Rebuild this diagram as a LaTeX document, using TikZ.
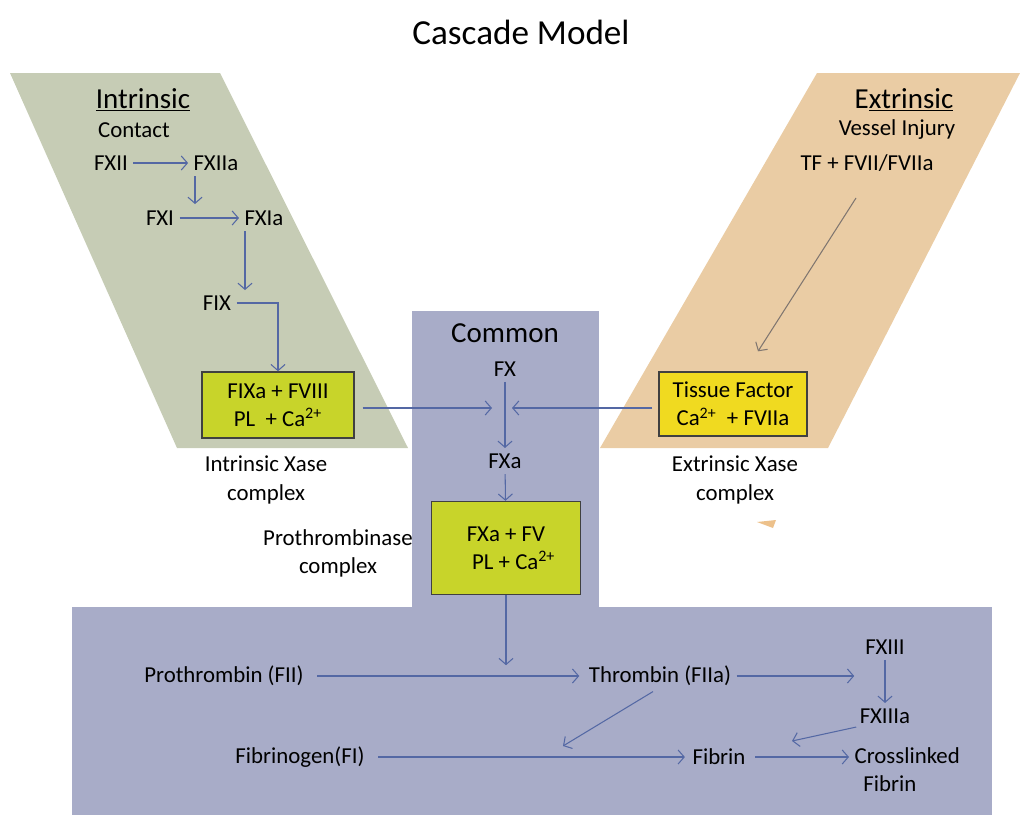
\documentclass[tikz,border=0pt]{standalone}
\usepackage{fontspec}
\setmainfont{Carlito}
\usepackage{xcolor}
\usetikzlibrary{positioning,arrows.meta}
\definecolor{intr-fill}{RGB}{198,204,181}
\definecolor{extr-fill}{RGB}{234,204,164}
\definecolor{common-fill}{RGB}{168,172,200}
\definecolor{box-fill}{RGB}{200,212,42}
\definecolor{tf-fill}{RGB}{240,218,32}
\definecolor{flow-blue}{RGB}{84,104,164}
\definecolor{flow-gray}{RGB}{128,118,112}
\tikzset{
    title-text/.style = {font=\fontsize{20}{24}\selectfont},
    head-text/.style = {font=\fontsize{16.5}{19}\selectfont, inner sep=2pt},
    path-text/.style = {font=\fontsize{13}{16}\selectfont, inner sep=3pt, align=center},
    complex-box/.style = {draw=black!75, line width=0.8pt, rectangle, align=center, font=\fontsize{13}{16}\selectfont},
    flow/.style = {draw=flow-blue, line width=0.6pt, -{Straight Barb[length=3.5pt,width=8pt]}},
}
\begin{document}
\begin{tikzpicture}[x=0.02cm, y=-0.02cm]
\useasboundingbox (0,0) rectangle (1020,815);

% background panels
\fill[intr-fill] (10,73) -- (220,73) -- (408,448) -- (177,448) -- cycle;
\fill[extr-fill] (817,73) -- (1020,73) -- (828,448) -- (600,448) -- cycle;
\fill[extr-fill!85!orange] (757,522) -- (776,520) -- (773,528) -- cycle;
\fill[common-fill] (412,311) rectangle (599,612);
\fill[common-fill] (72,607) rectangle (992,815);

\node[title-text] (title) at (521,32) {Cascade Model};

% intrinsic pathway
\node[head-text] (intr) at (143,100) {\underline{Intrinsic}};
\node[path-text, anchor=west, inner sep=1pt] (contact) at (96,130) {Contact};
\node[path-text] (fxii) at (111,163) {FXII};
\node[path-text] (fxiia) at (216,163) {FXIIa};
\node[path-text] (fxi) at (160,218) {FXI};
\node[path-text] (fxia) at (264,218) {FXIa};
\node[path-text] (fix) at (217,303) {FIX};
\node[complex-box, fill=box-fill, minimum width=3.04cm, minimum height=1.32cm] (ixase) at (278,405) {FIXa\ + FVIII\\PL\ \ + Ca\textsuperscript{2+}};
\node[path-text] (ixase-lbl) at (266,480) {Intrinsic Xase\\complex};

\draw[flow] (fxii) -- (fxiia);
\draw[flow] ([shift={(-21,0)}]fxiia.south) -- ++(0,28);
\draw[flow] (fxi) -- (fxia);
\draw[flow] ([shift={(-19,0)}]fxia.south) -- ([shift={(-19,0)}]fxia.south |- fix.north);
\draw[flow] (fix.east) -| (ixase.north);

% extrinsic pathway
\node[head-text] (extr) at (904,100) {E\underline{xtrinsic}};
\node[path-text, inner sep=1pt] (injury) at (897,130) {Vessel\ Injury};
\node[path-text] (tf) at (867,163) {TF\ + FVII/FVIIa};
\node[complex-box, fill=tf-fill, minimum width=2.96cm, minimum height=1.28cm] (exase) at (733,404) {Tissue Factor\\Ca\textsuperscript{2+}\ \ + FVIIa};
\node[path-text] (exase-lbl) at (735,480) {Extrinsic Xase\\complex};

\draw[flow, draw=flow-gray] ([shift={(-11,35)}]tf.center) -- ([shift={(25,-20)}]exase.north);

% common pathway
\node[head-text] (common) at (505,333) {Common};
\node[path-text] (fx) at (505,369) {FX};
\node[path-text] (fxa) at (505,461) {FXa};
\node[complex-box, fill=box-fill, minimum width=2.98cm, minimum height=1.86cm] (pro) at (506,548) {FXa\ + FV\\\ \ \ PL\ + Ca\textsuperscript{2+}};
\node[path-text, left=0.25cm of pro, yshift=-0.1cm] (pro-lbl) {Prothrombinase\\complex};
\coordinate (fx-join) at (505,408);

\draw[flow] (fx) -- (fxa);
\draw[flow] ([shift={(8,0)}]ixase.east |- fx-join) -- ([shift={(-13,0)}]fx-join);
\draw[flow] ([shift={(-6,0)}]exase.west |- fx-join) -- ([shift={(7,0)}]fx-join);
\draw[flow] (fxa) -- (pro);
\draw[flow] (pro.south) -- ++(0,70);

% thrombin and fibrin
\node[path-text] (fii) at (224,676) {Prothrombin (FII)};
\node[path-text] (fiia) at (660,676) {Thrombin (FIIa)};
\node[path-text] (fxiii) at (885,647) {FXIII};
\node[path-text] (fxiiia) at (885,716) {FXIIIa};
\node[path-text] (fi) at (300,757) {Fibrinogen(FI)};
\node[path-text] (fibrin) at (719,757) {Fibrin};
\node[path-text, align=left, anchor=west] (xfibrin) at (849,770) {Crosslinked\\\hspace{5pt}Fibrin};
\coordinate (fgn-join) at (563,746);
\coordinate (xl-join) at (792,741);

\draw[flow] ([shift={(8,0)}]fii.east) -- ([shift={(-4,0)}]fiia.west);
\draw[flow] (fiia.east) -- (fiia.east -| fxiiia.west);
\draw[flow] (fxiii) -- (fxiiia);
\draw[flow] ([shift={(-7,0)}]fiia.south) -- (fgn-join);
\draw[flow] ([shift={(2,-2)}]fxiiia.south west) -- (xl-join);
\draw[flow] ([shift={(8,0)}]fi.east) -- ([shift={(-2,0)}]fibrin.west);
\draw[flow] ([shift={(4,0)}]fibrin.east) -- (xfibrin.west |- fibrin);
\end{tikzpicture}
\end{document}
